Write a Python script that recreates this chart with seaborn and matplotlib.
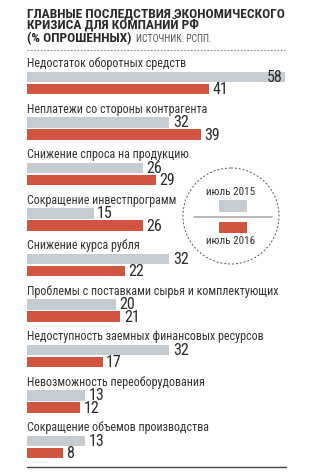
import matplotlib
matplotlib.use("Agg")
import matplotlib.pyplot as plt
import seaborn as sns
import pandas as pd
from matplotlib.patches import Circle, Rectangle

categories = [
    "Недостаток оборотных средств",
    "Неплатежи со стороны контрагента",
    "Снижение спроса на продукцию",
    "Сокращение инвестпрограмм",
    "Снижение курса рубля",
    "Проблемы с поставками сырья и комплектующих",
    "Недоступность заемных финансовых ресурсов",
    "Невозможность переоборудования",
    "Сокращение объемов производства",
]
v2015 = [58, 32, 26, 15, 32, 20, 32, 13, 13]
v2016 = [41, 39, 29, 26, 22, 21, 17, 12, 8]
series = ["июль 2015", "июль 2016"]

title_lines = ["ГЛАВНЫЕ ПОСЛЕДСТВИЯ ЭКОНОМИЧЕСКОГО", "КРИЗИСА ДЛЯ КОМПАНИЙ РФ"]
title_last = "(% ОПРОШЕННЫХ)"
source = "ИСТОЧНИК: РСПП."

GRAY = "#c6cdd2"
RED = "#d0543f"
TXT = "#2a2a2a"

sns.set_theme(style="white")
FONT = ["Roboto Condensed", "Liberation Sans", "DejaVu Sans"]
plt.rcParams["font.family"] = FONT

df = pd.DataFrame({
    "cat": categories * 2,
    "val": v2015 + v2016,
    "year": [series[0]] * len(categories) + [series[1]] * len(categories),
})

W, H = 336, 476
fig = plt.figure(figsize=(W / 100, H / 100), dpi=100)
ax = fig.add_axes([0, 0, 1, 1])

# pixel mapping
X0, PXU = 27, 4.45          # x pixel of value 0 and pixels per unit
Y0, PXC = 83, 45.5          # y pixel of first category centre and pixels per category

sns.barplot(data=df, y="cat", x="val", hue="year", order=categories,
            hue_order=series, palette=[GRAY, RED], width=0.53, gap=0.12,
            orient="h", legend=False, ax=ax, saturation=1, linewidth=0)

ax.set_xlim(-X0 / PXU, (W - X0) / PXU)
ax.set_ylim((H - Y0) / PXC, -Y0 / PXC)
ax.axis("off")


def fit(txt, target_px):
    """Scale a text's font size so its rendered width matches target_px."""
    for _ in range(3):
        fig.canvas.draw()
        w = txt.get_window_extent().width
        if w > 0:
            txt.set_fontsize(txt.get_fontsize() * target_px / w)


vmax = max(v2015 + v2016)
cat_texts = []
for i, cat in enumerate(categories):
    cat_texts.append(ax.text(0, i - 16 / PXC, cat, fontsize=8.5, color="#333333",
                             va="baseline", ha="left"))
    for j, v in enumerate([v2015[i], v2016[i]]):
        yc = i + (-1 if j == 0 else 1) * 0.53 / 4 + 0.5 / PXC
        if v == vmax:
            ax.text(v - 3 / PXU, yc, str(v), fontsize=11.5, color=TXT, va="center", ha="right")
        else:
            ax.text(v + 3.5 / PXU, yc, str(v), fontsize=11.5, color=TXT, va="center", ha="left")

fit(cat_texts[0], 158)
for t_ in cat_texts[1:]:
    t_.set_fontsize(cat_texts[0].get_fontsize())

# overlay axes in pixel coordinates for decorations
dax = fig.add_axes([0, 0, 1, 1], facecolor="none")
dax.set_xlim(0, W)
dax.set_ylim(H, 0)
dax.axis("off")

t1 = dax.text(27, 17, title_lines[0], fontsize=9, fontweight="bold", color=TXT, va="baseline")
fit(t1, 258)
TS = t1.get_fontsize()
dax.text(27, 29.5, title_lines[1], fontsize=TS, fontweight="bold", color=TXT, va="baseline")
t = dax.text(27, 42, title_last, fontsize=TS, fontweight="bold", color=TXT, va="baseline")
fig.canvas.draw()
x_end = t.get_window_extent().x1
dax.text(x_end + 4, 42, source, fontsize=7, color="#555555", va="baseline")

dax.plot([27, 285], [50, 50], color="#888888", lw=0.8, ls=(0, (1.5, 1.5)))
dax.plot([27, 286], [467, 467], color="#444444", lw=1.0)

# legend circle
dax.add_patch(Circle((231, 216), 48, fill=False, ec="#555555", lw=0.7, ls=(0, (2, 2))))
dax.text(231, 192, series[0], fontsize=8, color="#333333", ha="center", va="center")
dax.add_patch(Rectangle((219, 200), 28, 12, color=GRAY, lw=0))
dax.plot([194, 272], [217, 217], color="#aaaaaa", lw=1.2)
dax.add_patch(Rectangle((219, 222), 28, 11, color=RED, lw=0))
dax.text(231, 241, series[1], fontsize=8, color="#333333", ha="center", va="center")

fig.savefig("out.png", dpi=100, facecolor="white")
